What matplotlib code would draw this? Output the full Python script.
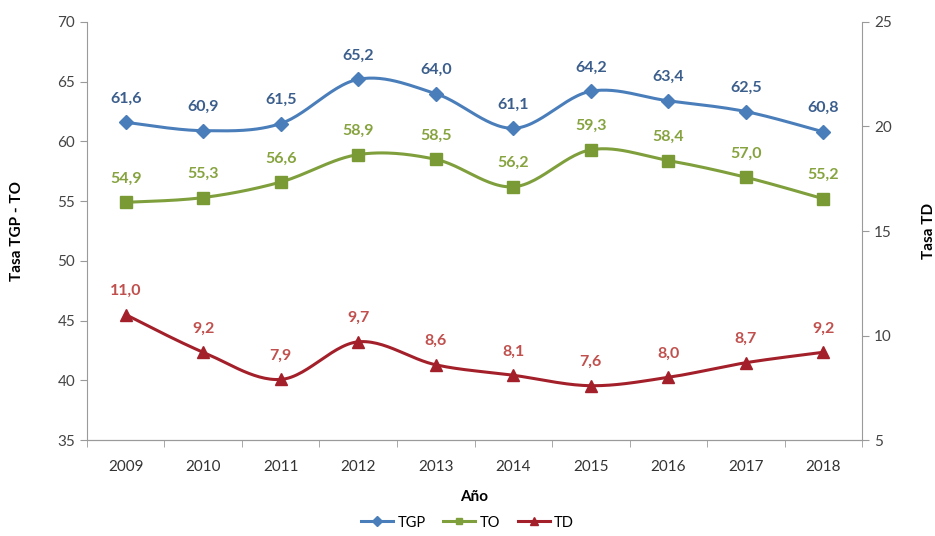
import numpy as np
import matplotlib
matplotlib.use("Agg")
import matplotlib.pyplot as plt
from matplotlib.lines import Line2D

years = ["2009", "2010", "2011", "2012", "2013", "2014", "2015", "2016", "2017", "2018"]
tgp = [61.6, 60.9, 61.5, 65.2, 64.0, 61.1, 64.2, 63.4, 62.5, 60.8]
to = [54.9, 55.3, 56.6, 58.9, 58.5, 56.2, 59.3, 58.4, 57.0, 55.2]
td = [11.0, 9.2, 7.9, 9.7, 8.6, 8.1, 7.6, 8.0, 8.7, 9.2]

plt.rcParams['font.family'] = ['Lato', 'DejaVu Sans']

BLUE = "#4a7ebb"
BLUE_TXT = "#3b5e8c"
GREEN = "#7f9f3c"
GREEN_M = "#7a9a36"
GREEN_TXT = "#86a33f"
RED = "#a3202a"
RED_TXT = "#c0504d"
GRAY = "#9a9a9a"


# Excel-like smoothing (Catmull-Rom between points)
def smooth(x, y, n=30):
    x = np.asarray(x, float)
    y = np.asarray(y, float)
    px = np.concatenate([[x[0]], x, [x[-1]]])
    py = np.concatenate([[y[0]], y, [y[-1]]])
    xs, ys = [], []
    t = np.linspace(0, 1, n)
    for i in range(1, len(px) - 2):
        p0, p1, p2, p3 = (px[i-1], py[i-1]), (px[i], py[i]), (px[i+1], py[i+1]), (px[i+2], py[i+2])
        for k, out in ((0, xs), (1, ys)):
            a, b, c, d = p0[k], p1[k], p2[k], p3[k]
            seg = 0.5 * ((2*b) + (-a + c)*t + (2*a - 5*b + 4*c - d)*t**2 + (-a + 3*b - 3*c + d)*t**3)
            out.extend(seg)
    return np.array(xs), np.array(ys)


def fmt(v):
    return f"{v:.1f}".replace(".", ",")


fig = plt.figure(figsize=(9.35, 5.36), dpi=100)
ax = fig.add_axes([0.093, 0.179, 0.829, 0.78])
ax2 = ax.twinx()

x = np.arange(len(years))

sx, sy = smooth(x, tgp)
ax.plot(sx, sy, color=BLUE, lw=2.2, zorder=3)
ax.plot(x, tgp, ls="none", marker="D", ms=7, color=BLUE, zorder=4)
sx, sy = smooth(x, to)
ax.plot(sx, sy, color=GREEN, lw=2.2, zorder=3)
ax.plot(x, to, ls="none", marker="s", ms=8, color=GREEN_M, zorder=4)
sx, sy = smooth(x, td)
ax2.plot(sx, sy, color=RED, lw=2.2, zorder=3)
ax2.plot(x, td, ls="none", marker="^", ms=9, color=RED, zorder=4)

for i in range(len(years)):
    ax.annotate(fmt(tgp[i]), (x[i], tgp[i]), xytext=(0, 12), textcoords="offset points",
                ha="center", va="bottom", color=BLUE_TXT, fontsize=11.5, fontweight="bold")
    ax.annotate(fmt(to[i]), (x[i], to[i]), xytext=(0, 12), textcoords="offset points",
                ha="center", va="bottom", color=GREEN_TXT, fontsize=11.5, fontweight="bold")
    ax2.annotate(fmt(td[i]), (x[i], td[i]), xytext=(0, 12), textcoords="offset points",
                 ha="center", va="bottom", color=RED_TXT, fontsize=11.5, fontweight="bold")

ax.set_xlim(-0.5, len(years) - 0.5)
ax.set_ylim(35, 70)
ax2.set_ylim(5, 25)
ax.set_yticks(range(35, 71, 5))
ax2.set_yticks(range(5, 26, 5))
ax.set_xticks(x)
ax.set_xticklabels(years)
ax.set_xticks(np.arange(-0.5, len(years), 1), minor=True)
ax.tick_params(axis="x", which="major", length=0, pad=14, labelsize=11, colors="#333333")
ax.tick_params(axis="x", which="minor", length=5, color=GRAY, direction="out")
ax.tick_params(axis="y", length=5, color=GRAY, labelsize=11, labelcolor="#444444")
ax2.tick_params(axis="y", length=5, color=GRAY, labelsize=11, labelcolor="#444444")

for a in (ax, ax2):
    for s in a.spines.values():
        s.set_visible(False)
    a.spines["bottom"].set_visible(True)
    a.spines["bottom"].set_color(GRAY)
ax.spines["left"].set_visible(True)
ax.spines["left"].set_color(GRAY)
ax2.spines["right"].set_visible(True)
ax2.spines["right"].set_color(GRAY)

ax.set_xlabel("Año", fontsize=11, fontweight="bold", labelpad=12)
ax.set_ylabel("Tasa TGP - TO", fontsize=11, fontweight="bold", labelpad=24)
ax2.set_ylabel("Tasa TD", fontsize=11, fontweight="bold", labelpad=22)

handles = [Line2D([], [], color=BLUE, lw=2.2, marker="D", ms=5),
           Line2D([], [], color=GREEN, lw=2.2, marker="s", ms=5),
           Line2D([], [], color=RED, lw=2.2, marker="^", ms=6)]
fig.legend(handles, ["TGP", "TO", "TD"], loc="center", bbox_to_anchor=(0.5, 0.025),
           ncol=3, frameon=False, fontsize=10.5, handlelength=2.2, columnspacing=1.2,
           handletextpad=0.3)

fig.savefig("out.png", dpi=100)
